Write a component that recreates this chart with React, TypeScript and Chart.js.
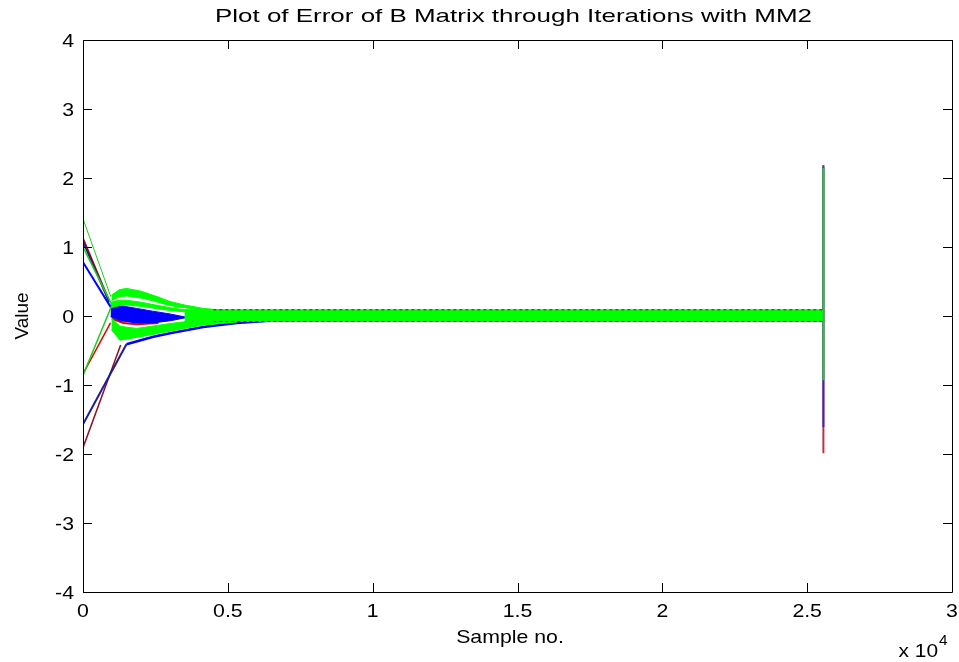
import React, { useEffect, useRef } from "react";
import { Chart, registerables } from "chart.js";

Chart.register(...registerables);

// ---------- data ----------
const titleText = "Plot of Error of B Matrix through Iterations with MM2";
const xAxisTitle = "Sample no.";
const yAxisTitle = "Value";

const xTickValues = [0, 5000, 10000, 15000, 20000, 25000, 30000];
const xTickLabels = ["0", "0.5", "1", "1.5", "2", "2.5", "3"];
const yTickValues = [-4, -3, -2, -1, 0, 1, 2, 3, 4];
const yTickLabels = ["-4", "-3", "-2", "-1", "0", "1", "2", "3", "4"];

// initial transients (thin lines)
const redUpperX = [0, 900];
const redUpperY = [1.12, 0.22];
const redMidX = [0, 950];
const redMidY = [-0.84, -0.1];
const redLowerX = [0, 1300];
const redLowerY = [-1.91, -0.42];
const redBandX = [1000, 1400, 1850, 2600];
const redBandY = [-0.04, -0.1, -0.12, -0.1];

const blueUpperX = [0, 1000];
const blueUpperY = [0.78, 0.1];
const navyUpperX = [0, 900];
const navyUpperY = [1.07, 0.2];
const navyLowerX = [0, 1500];
const navyLowerY = [-1.57, -0.41];
const blueEnvX = [1500, 2430, 3000, 4150, 5300, 6440, 8700, 12000];
const blueEnvY = [-0.41, -0.3, -0.25, -0.16, -0.1, -0.07, -0.045, -0.035];
const blueBandX = [950, 1300, 1850, 2400, 3000, 3600];
const blueBandTop = [0.16, 0.15, 0.11, 0.07, 0.03, -0.02];
const blueBandBottom = [-0.01, -0.07, -0.1, -0.1, -0.07, -0.02];

const greenHighX = [0, 960];
const greenHighY = [1.41, 0.28];
const greenMidX = [0, 1000];
const greenMidY = [1.0, 0.16];
const greenLowX = [0, 1000];
const greenLowY = [-0.86, 0.16];

const greenUpperBandX = [980, 1250, 1500, 2000, 2500, 3000, 3500, 4150, 4700, 5300];
const greenOuterTop = [0.3, 0.38, 0.4, 0.36, 0.29, 0.21, 0.16, 0.11, 0.09, 0.08];
const greenOuterBottom = [0.22, 0.28, 0.29, 0.26, 0.21, 0.15, 0.12, 0.08, 0.06, 0.05];
const greenInnerTop = [0.2, 0.23, 0.23, 0.2, 0.16, 0.12, 0.09, 0.06, 0.05, 0.04];
const greenInnerBottom = [0.12, 0.15, 0.16, 0.14, 0.11, 0.08, 0.06, 0.04, 0.03, 0.02];

const greenLowerBandX = [980, 1280, 1850, 3000, 4150, 5300];
const greenLowerTop = [-0.03, -0.15, -0.18, -0.11, -0.05, -0.03];
const greenLowerBottom = [-0.2, -0.35, -0.31, -0.22, -0.13, -0.09];

const tailBandX = [3500, 25560];
const tailBandTop = [0.09, 0.09];
const tailBandBottom = [-0.08, -0.08];
const tailEdgeX = [4500, 25560];
const tailEdgeTop = [0.09, 0.09];
const tailEdgeBottom = [-0.08, -0.08];

const spikeX = [25560, 25560];
const redSpikeY = [2.19, -1.99];
const blueSpikeY = [2.17, -1.61];
const greenSpikeY = [2.15, -0.93];

// ---------- helpers ----------
const zip = (xs: number[], ys: number[]) => xs.map((x, i) => ({ x, y: ys[i] }));

const RED = "#e00000";
const MAROON = "#8a1020";
const BLUE = "#0000ff";
const NAVY = "#1c1c90";
const GREEN = "#00ff00";
const GREEN_THIN = "#22cc22";

const FONT = '"Liberation Sans", Arial, sans-serif';

function line(xs: number[], ys: number[], color: string, order: number, extra: any = {}) {
  return {
    data: zip(xs, ys),
    borderColor: color,
    backgroundColor: color,
    borderWidth: 1,
    pointRadius: 0,
    tension: 0,
    fill: false,
    order,
    ...extra,
  };
}

function drawText(
  ctx: CanvasRenderingContext2D,
  text: string,
  x: number,
  y: number,
  size: number,
  sx: number,
  align: CanvasTextAlign
) {
  ctx.save();
  ctx.font = `${size}px ${FONT}`;
  ctx.textAlign = align;
  ctx.textBaseline = "alphabetic";
  ctx.fillStyle = "#000";
  ctx.translate(x, y);
  ctx.scale(sx, 1);
  ctx.fillText(text, 0, 0);
  ctx.restore();
}

const matlabAxesPlugin = {
  id: "matlabAxes",
  afterDatasetsDraw(chart: any) {
    const { ctx, chartArea, scales } = chart;
    const { left, right, top, bottom } = chartArea;
    const xs = scales.x;
    const ys = scales.y;
    ctx.save();
    ctx.strokeStyle = "#000";
    ctx.lineWidth = 1;
    ctx.beginPath();
    ctx.rect(Math.round(left) + 0.5, Math.round(top) + 0.5, Math.round(right - left), Math.round(bottom - top));
    ctx.stroke();
    const tl = 9;
    ctx.beginPath();
    xTickValues.forEach((v) => {
      const px = Math.round(xs.getPixelForValue(v)) + 0.5;
      ctx.moveTo(px, bottom);
      ctx.lineTo(px, bottom - tl);
      ctx.moveTo(px, top);
      ctx.lineTo(px, top + tl);
    });
    yTickValues.forEach((v) => {
      const py = Math.round(ys.getPixelForValue(v)) + 0.5;
      ctx.moveTo(left, py);
      ctx.lineTo(left + tl, py);
      ctx.moveTo(right, py);
      ctx.lineTo(right - tl, py);
    });
    ctx.stroke();
    ctx.restore();

    xTickValues.forEach((v, i) => {
      drawText(ctx, xTickLabels[i], xs.getPixelForValue(v), bottom + 25, 19, 1.12, "center");
    });
    yTickValues.forEach((v, i) => {
      drawText(ctx, yTickLabels[i], left - 9, ys.getPixelForValue(v) + 7, 19, 1.12, "right");
    });

    ctx.save();
    ctx.font = `19px ${FONT}`;
    const tw = ctx.measureText(titleText).width;
    ctx.restore();
    drawText(ctx, titleText, 513.5, 22, 19, 597 / tw, "center");

    drawText(ctx, xAxisTitle, 510, 643, 19, 1.12, "center");

    drawText(ctx, "x 10", 938, 657, 19, 1.1, "right");
    drawText(ctx, "4", 939, 645, 14, 1.1, "left");

    ctx.save();
    ctx.translate(28, (top + bottom) / 2);
    ctx.rotate(-Math.PI / 2);
    ctx.font = `19px ${FONT}`;
    ctx.textAlign = "center";
    ctx.textBaseline = "alphabetic";
    ctx.fillStyle = "#000";
    ctx.fillText(yAxisTitle, 0, 0);
    ctx.restore();
  },
};

export default function App() {
  const canvasRef = useRef<HTMLCanvasElement | null>(null);

  useEffect(() => {
    const canvas = canvasRef.current;
    if (!canvas) return;

    const datasets: any[] = [
      line(tailEdgeX, tailEdgeTop, "#333", 0, { borderDash: [3, 3] }),
      line(tailEdgeX, tailEdgeBottom, "#333", 0, { borderDash: [3, 3] }),

      line(spikeX, greenSpikeY, GREEN_THIN, 1, { borderWidth: 2 }),
      line(tailBandX, tailBandBottom, GREEN, 1),
      line(tailBandX, tailBandTop, GREEN, 1, { fill: "-1" }),
      line(greenUpperBandX, greenOuterBottom, GREEN, 1),
      line(greenUpperBandX, greenOuterTop, GREEN, 1, { fill: "-1" }),
      line(greenUpperBandX, greenInnerBottom, GREEN, 1),
      line(greenUpperBandX, greenInnerTop, GREEN, 1, { fill: "-1" }),
      line(greenLowerBandX, greenLowerBottom, GREEN, 1),
      line(greenLowerBandX, greenLowerTop, GREEN, 1, { fill: "-1" }),
      line(greenHighX, greenHighY, GREEN_THIN, 1),
      line(greenMidX, greenMidY, GREEN_THIN, 1, { borderWidth: 1.5 }),
      line(greenLowX, greenLowY, GREEN_THIN, 1, { borderWidth: 1.5 }),

      line(spikeX, blueSpikeY, "#3030c0", 2, { borderWidth: 2 }),
      line(blueBandX, blueBandBottom, BLUE, 2),
      line(blueBandX, blueBandTop, BLUE, 2, { fill: "-1" }),
      line(blueEnvX, blueEnvY, BLUE, 2, { borderWidth: 2.5 }),
      line(blueUpperX, blueUpperY, BLUE, 2, { borderWidth: 2 }),
      line(navyUpperX, navyUpperY, NAVY, 2, { borderWidth: 1.5 }),
      line(navyLowerX, navyLowerY, NAVY, 2, { borderWidth: 2 }),

      line(spikeX, redSpikeY, "#c03040", 3, { borderWidth: 2 }),
      line(redBandX, redBandY, RED, 3, { borderWidth: 2 }),
      line(redUpperX, redUpperY, MAROON, 3, { borderWidth: 2 }),
      line(redMidX, redMidY, RED, 3, { borderWidth: 1.5 }),
      line(redLowerX, redLowerY, MAROON, 3, { borderWidth: 1.5 }),
    ];

    const chart = new Chart(canvas, {
      type: "line",
      data: { datasets },
      options: {
        animation: false,
        responsive: false,
        maintainAspectRatio: false,
        events: [],
        layout: { padding: { left: 83, right: 7, top: 40, bottom: 70 } },
        plugins: {
          legend: { display: false },
          title: { display: false },
          tooltip: { enabled: false },
          filler: { propagate: false },
        },
        scales: {
          x: { type: "linear", min: 0, max: 30000, display: false },
          y: { type: "linear", min: -4, max: 4, display: false },
        },
      },
      plugins: [matlabAxesPlugin],
    });

    return () => chart.destroy();
  }, []);

  return (
    <div style={{ position: "fixed", left: 0, top: 0, width: 959, height: 662, background: "#fff" }}>
      <canvas ref={canvasRef} width={959} height={662} style={{ width: 959, height: 662, display: "block" }} />
    </div>
  );
}
